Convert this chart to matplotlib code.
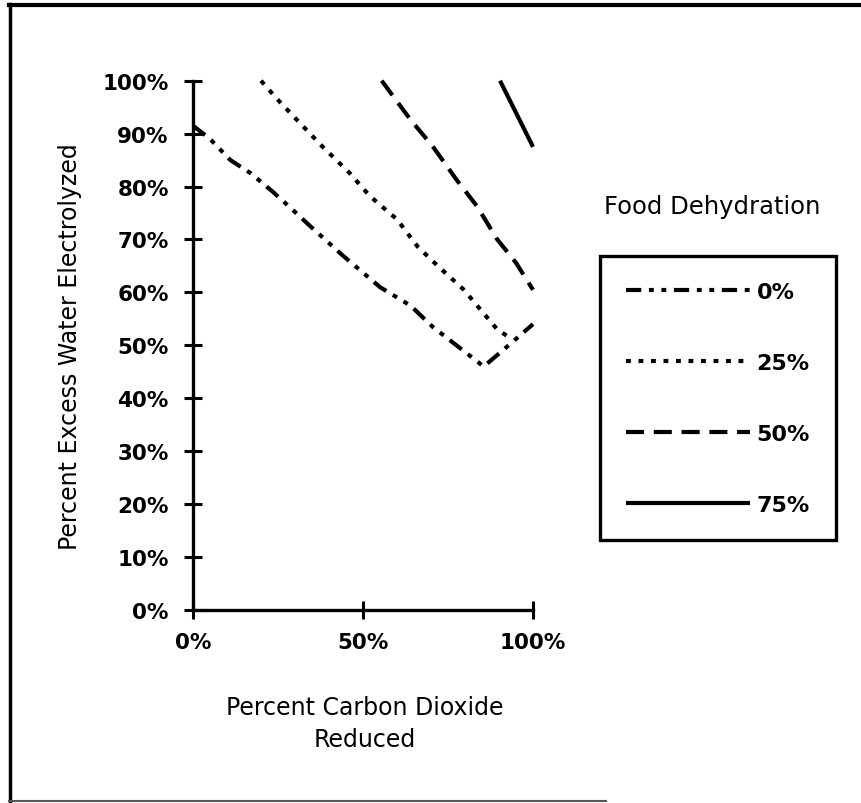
import matplotlib
matplotlib.use("Agg")
import matplotlib.pyplot as plt
from matplotlib.lines import Line2D

plt.rcParams['font.family'] = ['DejaVu Sans']
plt.rcParams['lines.scale_dashes'] = False

# ---- data ----
x_ticks = [0, 50, 100]
x_tick_labels = ["0%", "50%", "100%"]
y_ticks = [0, 10, 20, 30, 40, 50, 60, 70, 80, 90, 100]
y_tick_labels = ["0%", "10%", "20%", "30%", "40%", "50%", "60%", "70%", "80%", "90%", "100%"]

series_labels = ["0%", "25%", "50%", "75%"]

x_0 = [0, 5, 11, 17, 23.5, 29.5, 34.5, 44, 55, 64, 70.5, 77.5, 85.5, 91, 100]
y_0 = [91.5, 89, 85, 82.5, 79, 75.5, 72.5, 67, 61, 57.5, 53.5, 50, 46, 49, 54]

x_25 = [20, 24.5, 31, 38, 46, 52, 60, 66, 72, 79.5, 84.5, 89.5, 93.5]
y_25 = [100, 96.7, 92.3, 87.6, 82.6, 78.2, 73.8, 68.7, 65, 60.6, 56.8, 53, 51.3]

x_50 = [55.5, 64, 70.5, 77.5, 83.5, 89.5, 95, 100]
y_50 = [100, 92.6, 87.6, 81.3, 76.3, 70, 65.6, 60.5]

x_75 = [90.3, 100]
y_75 = [100, 87.5]

W, H = 862, 804
fig = plt.figure(figsize=(W / 100, H / 100), dpi=100)
fig.patch.set_facecolor("white")

ax_l, ax_r, ax_t, ax_b = 193, 533, 81.7, 611
ax = fig.add_axes([ax_l / W, 1 - ax_b / H, (ax_r - ax_l) / W, (ax_b - ax_t) / H])
ax.set_xlim(0, 100)
ax.set_ylim(0, 100)

lw = 3.0
styles = [
    dict(dashes=(11, 5.5, 3.5, 5.5, 3.5, 5.5)),
    dict(dashes=(3.5, 5.5)),
    dict(dashes=(13, 7)),
    dict(linestyle="-"),
]
xs = [x_0, x_25, x_50, x_75]
ys = [y_0, y_25, y_50, y_75]
handles = []
for x, y, st, lab in zip(xs, ys, styles, series_labels):
    ln, = ax.plot(x, y, color="black", lw=lw, clip_on=False, label=lab,
                  dash_capstyle="butt", solid_capstyle="butt", **st)
    handles.append(ln)

for side in ["top", "right"]:
    ax.spines[side].set_visible(False)
for side in ["left", "bottom"]:
    ax.spines[side].set_linewidth(2.4)

ax.set_xticks(x_ticks)
ax.set_xticklabels(x_tick_labels)
ax.set_yticks(y_ticks)
ax.set_yticklabels(y_tick_labels)
ax.tick_params(axis="both", direction="inout", length=13, width=2.2, color="black")
ax.tick_params(axis="y", pad=11)
ax.tick_params(axis="x", pad=9)
for t in ax.get_xticklabels() + ax.get_yticklabels():
    t.set_fontsize(15.5)
    t.set_fontweight("bold")

# axis titles
fig.text(70 / W, 1 - 347 / H, "Percent Excess Water Electrolyzed", rotation=90,
         ha="center", va="center", fontsize=17)
fig.text(365 / W, 1 - 724 / H, "Percent Carbon Dioxide\nReduced", ha="center",
         va="center", multialignment="center", fontsize=17, linespacing=1.45)

# legend
fig.text(712 / W, 1 - 207 / H, "Food Dehydration", ha="center", va="center", fontsize=17.5)
leg = fig.legend(handles=handles, labels=series_labels, loc="upper left",
                 bbox_to_anchor=(600 / W, 1 - 257 / H), borderaxespad=0,
                 fancybox=False, frameon=True, edgecolor="black", framealpha=1,
                 prop=dict(size=16, weight="bold"), handlelength=5.6,
                 handletextpad=0.3, labelspacing=2.3, borderpad=1.15)
leg.get_frame().set_linewidth(2.4)

# outer frame
fig.add_artist(Line2D([10 / W, 10 / W], [1 - 5 / H, 1 - 802 / H], color="black", lw=2.5,
                      transform=fig.transFigure))
fig.add_artist(Line2D([9 / W, 1.0], [1 - 6 / H, 1 - 6 / H], color="black", lw=3,
                      transform=fig.transFigure))
fig.add_artist(Line2D([9 / W, 606 / W], [1 - 802 / H, 1 - 802 / H], color="#555555", lw=1.5,
                      transform=fig.transFigure))

fig.savefig("out.png", dpi=100, facecolor="white")
